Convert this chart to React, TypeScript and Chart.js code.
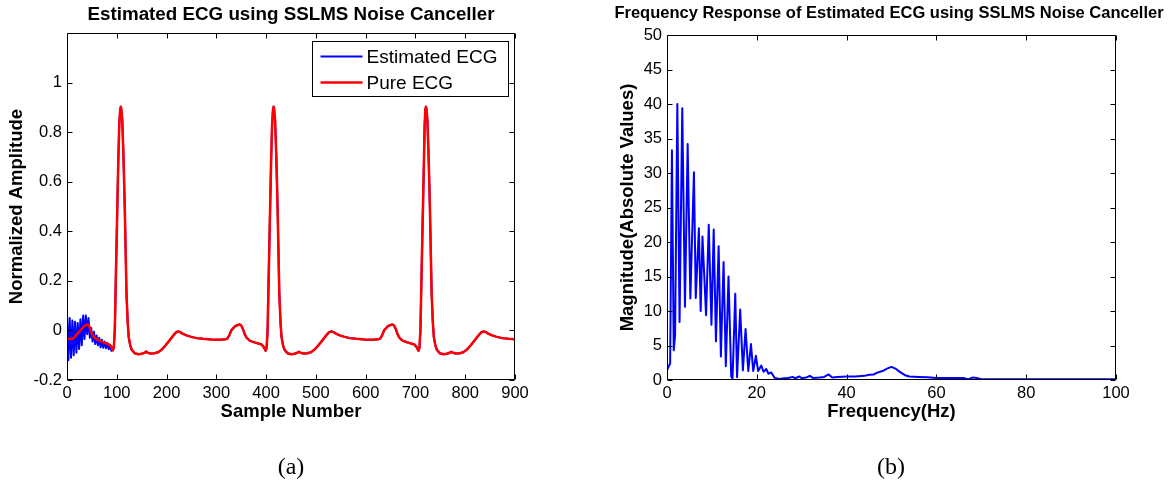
import React, { useEffect, useRef } from 'react';
import { Chart, registerables } from 'chart.js';

Chart.register(...registerables);

const FONT = '"Liberation Sans", Arial, Helvetica, sans-serif';

const ECG_TITLE = 'Estimated ECG using SSLMS Noise Canceller';
const FREQ_TITLE = 'Frequency Response of Estimated ECG using SSLMS Noise Canceller';

const ECG_X_TICKS = [0, 100, 200, 300, 400, 500, 600, 700, 800, 900];
const ECG_Y_TICKS = [-0.2, 0, 0.2, 0.4, 0.6, 0.8, 1];
const FREQ_X_TICKS = [0, 20, 40, 60, 80, 100];
const FREQ_Y_TICKS = [0, 5, 10, 15, 20, 25, 30, 35, 40, 45, 50];

const SERIES_LABELS = ['Estimated ECG', 'Pure ECG'];

// Pure ECG (sample number, normalized amplitude)
const PURE_ECG: [number, number][] = [
  [0, -0.034], [8, -0.035], [14, -0.03], [20, -0.015], [27, 0.0], [33, 0.014], [38, 0.022], [42, 0.024],
  [45, 0.016], [48, -0.005], [52, -0.022], [57, -0.032], [64, -0.04], [72, -0.047], [80, -0.053], [86, -0.058],
  [89, -0.066], [92, -0.08], [94, -0.07], [96, 0.0], [98, 0.2], [100.5, 0.44], [103, 0.68], [105, 0.83],
  [107, 0.895], [108, 0.903], [109, 0.895], [111, 0.85], [113.5, 0.7], [116, 0.5], [118, 0.3], [119.5, 0.15],
  [122, 0.03], [124, -0.027], [127, -0.06], [130, -0.078], [136, -0.092], [143, -0.096], [150, -0.094],
  [156, -0.09], [159, -0.085], [162, -0.09], [168, -0.093], [176, -0.092], [183, -0.088], [190, -0.078],
  [198, -0.06], [206, -0.04], [213, -0.022], [219, -0.008], [223, -0.004], [227, -0.006], [233, -0.014],
  [240, -0.02], [248, -0.025], [260, -0.031], [273, -0.034], [290, -0.037], [307, -0.038], [318, -0.036],
  [322, -0.033], [326, -0.02], [330, 0.0], [337, 0.016], [343, 0.022], [347, 0.024], [350, 0.02], [353, 0.008],
  [357, -0.015], [361, -0.03], [367, -0.041], [375, -0.047], [383, -0.052], [391, -0.057], [395, -0.066],
  [399, -0.082], [401, -0.07], [403, 0.0], [405, 0.2], [407.5, 0.44], [410, 0.68], [412, 0.83], [414, 0.895],
  [415, 0.903], [416, 0.895], [418, 0.85], [420.5, 0.7], [423, 0.5], [425, 0.3], [426.5, 0.15], [429, 0.03],
  [431, -0.027], [434, -0.06], [437, -0.078], [443, -0.092], [450, -0.096], [457, -0.094], [463, -0.09],
  [466, -0.086], [469, -0.09], [475, -0.093], [483, -0.092], [490, -0.088], [497, -0.078], [505, -0.06],
  [513, -0.04], [520, -0.022], [526, -0.008], [531, -0.004], [535, -0.006], [541, -0.014], [548, -0.02],
  [556, -0.025], [568, -0.031], [581, -0.034], [598, -0.037], [614, -0.038], [625, -0.036], [629, -0.033],
  [633, -0.02], [637, 0.0], [644, 0.016], [650, 0.022], [654, 0.024], [657, 0.02], [660, 0.008], [664, -0.015],
  [668, -0.03], [674, -0.041], [682, -0.047], [690, -0.052], [698, -0.057], [702, -0.066], [706, -0.082],
  [708, -0.07], [710, 0.0], [712, 0.2], [714.5, 0.44], [717, 0.68], [718.5, 0.83], [720, 0.895], [721, 0.903],
  [722, 0.895], [724, 0.85], [726.5, 0.7], [729, 0.5], [731, 0.3], [732.5, 0.15], [735, 0.03], [737, -0.027],
  [740, -0.06], [743, -0.078], [749, -0.092], [756, -0.096], [763, -0.094], [769, -0.09], [772, -0.086],
  [775, -0.09], [781, -0.093], [789, -0.092], [796, -0.088], [803, -0.078], [811, -0.06], [819, -0.04],
  [826, -0.022], [832, -0.008], [837, -0.004], [841, -0.006], [847, -0.014], [854, -0.02], [862, -0.025],
  [874, -0.031], [887, -0.034], [900, -0.036],
];

// Estimated ECG: noisy start of the adaptive filter (before convergence)
const ESTIMATED_ECG_START: [number, number][] = [
  [0, 0.06], [2.7, -0.12], [5.4, 0.05], [8.1, -0.11], [10.8, 0.04], [13.5, -0.1], [16.2, 0.035], [18.9, -0.09],
  [21.6, 0.03], [24.3, -0.075], [27, 0.045], [29.7, -0.06], [32.4, 0.06], [35.1, -0.035], [37.8, 0.06],
  [40.5, -0.015], [43.2, 0.05], [45.9, -0.03], [48.6, 0.01], [51.3, -0.045], [54, -0.005], [56.7, -0.055],
  [59.4, -0.02], [62.1, -0.06], [64.8, -0.03], [67.5, -0.068], [70.2, -0.038], [72.9, -0.07], [75.6, -0.045],
  [78.3, -0.072], [81, -0.05], [83.7, -0.076], [86.4, -0.058], [89.1, -0.082], [92, -0.08],
];
const ESTIMATED_ECG: [number, number][] = [
  ...ESTIMATED_ECG_START,
  ...PURE_ECG.filter((p) => p[0] > 92),
];

// Magnitude spectrum (Hz, |X|)
const SPECTRUM: [number, number][] = [
  [0, 1.4], [0.4, 2.0], [0.7, 2.4], [1.1, 33.3], [1.5, 4.3], [1.8, 6.5], [2.3, 40], [2.8, 8.4], [3.4, 39.4],
  [4.0, 10.6], [4.6, 34.2], [5.2, 11.8], [6.0, 30.1], [6.4, 11.9], [7.1, 22.0], [7.5, 10.0], [7.9, 20.8],
  [8.7, 9.4], [9.3, 22.5], [9.9, 8.0], [10.4, 21.8], [10.9, 5.6], [11.5, 19.4], [12.0, 3.4], [12.6, 17.1],
  [13.1, 2.0], [13.7, 15.0], [14.3, 0.5], [14.6, 0.2], [15.2, 12.5], [15.6, 0.4], [16.3, 10.2], [16.9, 1.4],
  [17.5, 7.4], [18.1, 1.3], [18.7, 5.2], [19.2, 1.3], [19.8, 3.5], [20.3, 1.3], [21.0, 2.1], [21.5, 1.2],
  [22.1, 1.6], [22.6, 0.9], [23.2, 1.1], [24.0, 0.3], [25, 0.15], [26, 0.25], [27, 0.3], [28, 0.45], [28.5, 0.25],
  [29.5, 0.5], [30, 0.25], [31, 0.35], [31.8, 0.6], [32.5, 0.3], [34, 0.35], [35, 0.45], [36, 0.8], [36.8, 0.35],
  [38, 0.45], [40, 0.5], [42, 0.5], [44, 0.6], [45, 0.75], [46, 0.8], [47, 1.1], [48, 1.3], [49, 1.65],
  [50, 1.9], [51, 1.6], [52, 1.1], [53, 0.7], [54, 0.5], [56, 0.45], [58, 0.4], [60, 0.3], [62, 0.3],
  [66, 0.3], [67, 0.1], [68, 0.35], [69, 0.3], [70, 0.1], [80, 0.1], [90, 0.1], [100, 0.1],
];

const toXY = (arr: [number, number][]) => arr.map(([x, y]) => ({ x, y }));

const framePlugin = {
  id: 'matlabFrame',
  afterDatasetsDraw(chart: any) {
    const { ctx, chartArea, scales } = chart;
    const L = Math.round(chartArea.left) + 0.5;
    const R = Math.round(chartArea.right) - 0.5;
    const T = Math.round(chartArea.top) + 0.5;
    const B = Math.round(chartArea.bottom) - 0.5;
    const len = 5;
    ctx.save();
    ctx.strokeStyle = '#000';
    ctx.lineWidth = 1;
    ctx.beginPath();
    ctx.rect(L, T, R - L, B - T);
    scales.x.ticks.forEach((t: any) => {
      const px = Math.round(scales.x.getPixelForValue(t.value)) + 0.5;
      ctx.moveTo(px, B);
      ctx.lineTo(px, B - len);
      ctx.moveTo(px, T);
      ctx.lineTo(px, T + len);
    });
    scales.y.ticks.forEach((t: any) => {
      const py = Math.round(scales.y.getPixelForValue(t.value)) + 0.5;
      ctx.moveTo(L, py);
      ctx.lineTo(L + len, py);
      ctx.moveTo(R, py);
      ctx.lineTo(R - len, py);
    });
    ctx.stroke();
    ctx.restore();
  },
};

const boxLegendPlugin = {
  id: 'boxLegend',
  afterDraw(chart: any) {
    const { ctx, chartArea } = chart;
    const w = 196;
    const h = 55;
    const x = Math.round(chartArea.right - 7 - w) + 0.5;
    const y = Math.round(chartArea.top + 8) + 0.5;
    ctx.save();
    ctx.fillStyle = '#fff';
    ctx.fillRect(x, y, w, h);
    ctx.strokeStyle = '#000';
    ctx.lineWidth = 1;
    ctx.strokeRect(x, y, w, h);
    ctx.font = `19px ${FONT}`;
    ctx.textBaseline = 'middle';
    ctx.textAlign = 'left';
    const rows = [15, 41];
    chart.data.datasets.forEach((ds: any, i: number) => {
      const ry = y + rows[i];
      ctx.strokeStyle = ds.borderColor;
      ctx.lineWidth = ds.borderWidth;
      ctx.beginPath();
      ctx.moveTo(x + 8, ry);
      ctx.lineTo(x + 50, ry);
      ctx.stroke();
      ctx.fillStyle = '#000';
      ctx.fillText(ds.label, x + 54, ry + 1);
    });
    ctx.restore();
  },
};

const tickFont = { family: FONT, size: 16.5 };
const boldFont = (size: number) => ({ family: FONT, size, weight: 'bold' as const });

function makeScales(opts: {
  xMin: number; xMax: number; yMin: number; yMax: number;
  xTicks: number[]; yTicks: number[]; xTitle: string; yTitle: string;
  yWidth: number; yTitlePad: number; yFmt: (v: number) => string;
}) {
  return {
    x: {
      type: 'linear' as const,
      min: opts.xMin,
      max: opts.xMax,
      afterBuildTicks: (s: any) => { s.ticks = opts.xTicks.map((v) => ({ value: v })); },
      afterFit: (s: any) => { s.height = 105; },
      grid: { display: false, drawTicks: false },
      border: { display: false },
      ticks: { padding: 4, color: '#000', font: tickFont, maxRotation: 0, autoSkip: false, callback: (v: any) => String(v) },
      title: { display: true, text: opts.xTitle, color: '#000', font: boldFont(18.5), padding: { top: 0, bottom: 62 } },
    },
    y: {
      type: 'linear' as const,
      min: opts.yMin,
      max: opts.yMax,
      afterBuildTicks: (s: any) => { s.ticks = opts.yTicks.map((v) => ({ value: v })); },
      afterFit: (s: any) => { s.width = opts.yWidth; },
      grid: { display: false, drawTicks: false },
      border: { display: false },
      ticks: { padding: 5, color: '#000', font: tickFont, autoSkip: false, callback: (v: any) => opts.yFmt(Number(v)) },
      title: { display: true, text: opts.yTitle, color: '#000', font: boldFont(18.5), padding: { top: opts.yTitlePad, bottom: 0 } },
    },
  };
}

export default function App() {
  const ref1 = useRef<HTMLCanvasElement>(null);
  const ref2 = useRef<HTMLCanvasElement>(null);

  useEffect(() => {
    document.body.style.margin = '0';
    const c1 = new Chart(ref1.current!, {
      type: 'line',
      data: {
        datasets: [
          { label: SERIES_LABELS[0], data: toXY(ESTIMATED_ECG), borderColor: '#0000ff', borderWidth: 2, pointRadius: 0, order: 2 },
          { label: SERIES_LABELS[1], data: toXY(PURE_ECG), borderColor: '#ff0000', borderWidth: 2.5, pointRadius: 0, order: 1 },
        ],
      },
      options: {
        responsive: false,
        animation: false,
        events: [],
        layout: { padding: { left: 0, right: 70, top: 0, bottom: 0 } },
        elements: { line: { tension: 0, borderJoinStyle: 'round' } },
        plugins: {
          legend: { display: false },
          tooltip: { enabled: false },
          title: {
            display: true, text: ECG_TITLE, fullSize: false, color: '#000',
            font: boldFont(18.8), padding: { top: 4, bottom: 6.5 },
          },
        },
        scales: makeScales({
          xMin: 0, xMax: 900, yMin: -0.2, yMax: 1.2, xTicks: ECG_X_TICKS, yTicks: ECG_Y_TICKS,
          xTitle: 'Sample Number', yTitle: 'Normalized Amplitude', yWidth: 67, yTitlePad: 6,
          yFmt: (v) => String(Math.round(v * 10) / 10),
        }) as any,
      },
      plugins: [framePlugin, boxLegendPlugin],
    });

    const scales2: any = makeScales({
      xMin: 0, xMax: 100, yMin: 0, yMax: 50, xTicks: FREQ_X_TICKS, yTicks: FREQ_Y_TICKS,
      xTitle: 'Frequency(Hz)', yTitle: 'Magnitude(Absolute Values)', yWidth: 60, yTitlePad: 10,
      yFmt: (v) => String(v),
    });
    scales2.yRight = {
      type: 'linear', position: 'right', display: true,
      grid: { display: false, drawTicks: false }, border: { display: false },
      ticks: { display: false },
      afterFit: (s: any) => { s.width = 55; },
    };

    const c2 = new Chart(ref2.current!, {
      type: 'line',
      data: {
        datasets: [
          { label: 'Spectrum', data: toXY(SPECTRUM), borderColor: '#0000ff', borderWidth: 2, pointRadius: 0 },
        ],
      },
      options: {
        responsive: false,
        animation: false,
        events: [],
        layout: { padding: 0 },
        elements: { line: { tension: 0, borderJoinStyle: 'round' } },
        plugins: {
          legend: { display: false },
          tooltip: { enabled: false },
          title: {
            display: true, text: FREQ_TITLE, fullSize: true, color: '#000',
            font: boldFont(16.5), padding: { top: 3.5, bottom: 11.7 },
          },
        },
        scales: scales2,
      },
      plugins: [framePlugin],
    });

    return () => { c1.destroy(); c2.destroy(); };
  }, []);

  const caption: React.CSSProperties = {
    position: 'absolute', top: 452, width: 100, textAlign: 'center',
    fontFamily: '"Liberation Serif", "Times New Roman", serif', fontSize: 24, lineHeight: '28px', color: '#000',
  };

  return (
    <div style={{ position: 'absolute', left: 0, top: 0, width: 1171, height: 485, background: '#fff', overflow: 'hidden' }}>
      <canvas ref={ref1} width={585} height={485} style={{ position: 'absolute', left: 0, top: 0 }} />
      <canvas ref={ref2} width={564} height={485} style={{ position: 'absolute', left: 607, top: 0 }} />
      <div style={{ ...caption, left: 241 }}>(a)</div>
      <div style={{ ...caption, left: 841 }}>(b)</div>
    </div>
  );
}
